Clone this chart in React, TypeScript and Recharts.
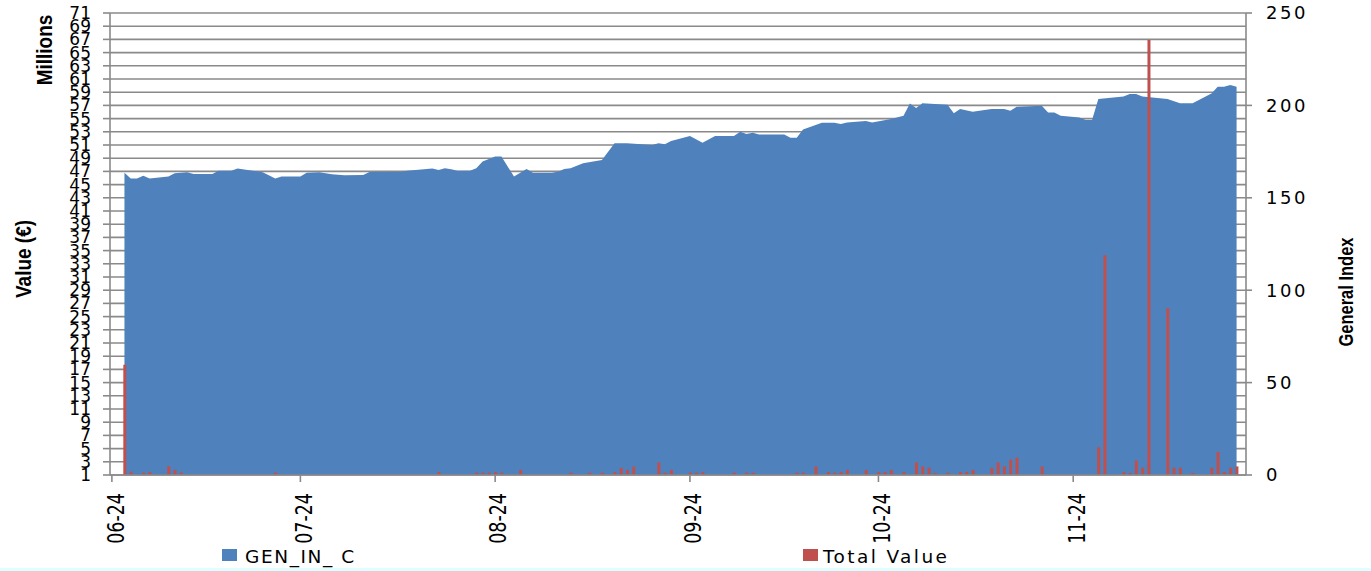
import { ComposedChart, Area, Bar, XAxis, YAxis, CartesianGrid } from "recharts";

// day offsets counted from 1 June 2024
const monthTicks = [0, 30, 61, 92, 122, 153];
const monthLabels = ["06-24", "07-24", "08-24", "09-24", "10-24", "11-24"];

const valueTicks = [1, 3, 5, 7, 9, 11, 13, 15, 17, 19, 21, 23, 25, 27, 29, 31, 33, 35, 37, 39, 41, 43, 45, 47, 49, 51, 53, 55, 57, 59, 61, 63, 65, 67, 69, 71];
const indexTicks = [0, 50, 100, 150, 200, 250];

// GEN_IN_ C (general index, right axis)
const indexDays = [2, 3, 4, 5, 6, 9, 10, 12, 13, 16, 17, 19, 20, 24, 26, 27, 30, 31, 33, 35, 37, 40, 41, 46, 47, 51, 52, 53, 54, 55, 57, 58, 59, 61, 62, 64, 66, 67, 70, 71, 72, 73, 75, 78, 80, 82, 86, 87, 88, 89, 92, 94, 96, 99, 100, 101, 102, 103, 107, 108, 109, 110, 113, 115, 116, 117, 120, 121, 124, 126, 127, 128, 129, 133, 134, 135, 137, 140, 142, 143, 144, 148, 149, 150, 151, 154, 155, 156, 157, 161, 162, 163, 164, 168, 170, 172, 175, 176, 177, 178, 179];
const genIndex = [163.6, 160.4, 160.4, 161.9, 160.4, 161.5, 163.3, 163.8, 162.9, 162.9, 164.7, 164.7, 165.8, 163.8, 160.4, 161.5, 161.5, 163.6, 163.8, 162.8, 162.2, 162.3, 164.0, 164.1, 164.7, 165.8, 165.0, 166.0, 165.4, 164.7, 164.7, 166.0, 169.6, 172.3, 172.3, 161.5, 165.6, 163.6, 163.6, 164.1, 165.6, 166.0, 168.7, 170.5, 179.5, 179.5, 178.6, 179.5, 179.0, 180.7, 183.4, 179.8, 183.4, 183.4, 185.8, 184.5, 185.2, 184.3, 184.3, 182.5, 182.5, 187.0, 190.6, 190.6, 189.9, 190.8, 191.6, 190.8, 192.6, 194.4, 201.0, 198.6, 201.1, 200.3, 195.7, 198.0, 196.6, 198.0, 198.0, 197.1, 199.3, 199.8, 196.2, 196.2, 194.4, 193.5, 192.1, 192.1, 203.5, 204.8, 206.2, 206.2, 204.8, 203.5, 201.1, 201.1, 206.5, 210.1, 210.1, 211.0, 210.1];

// Total Value (millions €, left axis)
const valueDays = [2, 3, 5, 6, 9, 10, 11, 26, 52, 58, 59, 60, 61, 62, 65, 73, 76, 78, 80, 81, 82, 83, 87, 88, 89, 92, 93, 94, 99, 101, 102, 109, 110, 112, 114, 115, 116, 117, 120, 122, 123, 124, 126, 128, 129, 130, 131, 133, 135, 136, 137, 140, 141, 142, 143, 144, 148, 157, 158, 161, 162, 163, 164, 165, 168, 169, 170, 172, 175, 176, 177, 178, 179];
const totalValue = [17.7, 1.5, 1.36, 1.45, 2.33, 1.77, 1.36, 1.36, 1.46, 1.36, 1.36, 1.36, 1.46, 1.36, 1.77, 1.36, 1.36, 1.36, 1.46, 2.08, 1.77, 2.28, 2.9, 1.36, 1.77, 1.36, 1.36, 1.46, 1.36, 1.36, 1.36, 1.36, 1.36, 2.3, 1.46, 1.36, 1.46, 1.77, 1.77, 1.46, 1.46, 1.77, 1.46, 2.9, 2.3, 2.1, 1.3, 1.36, 1.46, 1.46, 1.77, 2.1, 2.9, 2.3, 3.33, 3.64, 2.3, 5.2, 34.3, 1.46, 1.3, 3.2, 2.1, 66.9, 26.3, 2.1, 2.1, 1.3, 2.1, 4.5, 1.46, 2.1, 2.3];

const allDays = Array.from(new Set([...indexDays, ...valueDays])).sort((a, b) => a - b);
const data = allDays.map((day) => {
  const i = indexDays.indexOf(day);
  const v = valueDays.indexOf(day);
  return {
    day,
    idx: i >= 0 ? genIndex[i] : null,
    val: v >= 0 ? totalValue[v] : null,
  };
});

const GRID = "#8A8A8A";
const FONT = "DejaVu Sans";

function MonthTick({ x, y, payload }: any) {
  const i = monthTicks.indexOf(payload.value);
  const shift = i === 0 ? 4 : 3;
  return (
    <g transform={`translate(${x + shift},${y})`}>
      <text transform="rotate(-90) scale(1,1.3)" x={-9} y={6.4} textAnchor="end" fontFamily={FONT} fontSize={17.5} fill="#000">
        {monthLabels[i]}
      </text>
    </g>
  );
}

function IndexTick({ x, y, payload }: any) {
  return (
    <text x={x} y={y} dy="0.36em" textAnchor="start" fontFamily={FONT} fontSize={18} letterSpacing={2.6} fill="#000">
      {payload.value}
    </text>
  );
}

export default function App() {
  return (
    <div style={{ position: "absolute", left: 0, top: 0, width: 1371, height: 571, background: "#fff" }}>
      <ComposedChart width={1371} height={571} data={data} margin={{ top: 13, right: 45, bottom: 36, left: 50 }}>
        <CartesianGrid yAxisId="left" vertical={false} stroke={GRID} strokeWidth={1.6} />
        <XAxis
          dataKey="day"
          type="number"
          domain={[-0.3, 180.5]}
          allowDataOverflow
          ticks={monthTicks}
          interval={0}
          height={60}
          tickSize={7}
          tickMargin={2}
          tick={<MonthTick />}
          axisLine={{ stroke: GRID, strokeWidth: 1.6 }}
          tickLine={{ stroke: GRID, strokeWidth: 1.6 }}
        />
        <YAxis
          yAxisId="left"
          domain={[1, 71]}
          allowDataOverflow
          ticks={valueTicks}
          interval={0}
          width={60}
          tickSize={7}
          tickMargin={12}
          tick={{ fontFamily: FONT, fontSize: 17, fill: "#000" }}
          axisLine={{ stroke: GRID, strokeWidth: 1.6 }}
          tickLine={{ stroke: GRID, strokeWidth: 1.6 }}
        />
        <YAxis
          yAxisId="right"
          orientation="right"
          domain={[0, 250]}
          allowDataOverflow
          ticks={indexTicks}
          interval={0}
          width={80}
          tickSize={6}
          tickMargin={14}
          tick={<IndexTick />}
          axisLine={{ stroke: GRID, strokeWidth: 1.6 }}
          tickLine={{ stroke: GRID, strokeWidth: 1.6 }}
        />
        <Area
          yAxisId="right"
          type="linear"
          dataKey="idx"
          connectNulls
          stroke="none"
          fill="#4F81BD"
          fillOpacity={1}
          isAnimationActive={false}
        />
        <Bar yAxisId="left" dataKey="val" barSize={3} fill="#C0504D" isAnimationActive={false} />
      </ComposedChart>

      <svg width={1371} height={571} style={{ position: "absolute", left: 0, top: 0, pointerEvents: "none" }}>
        <text transform="translate(52,50) rotate(-90) scale(1,1.2)" textAnchor="middle" fontFamily="Liberation Sans" fontWeight="bold" fontSize={19} fill="#000">
          Millions
        </text>
        <text transform="translate(31,259) rotate(-90) scale(1,1.2)" textAnchor="middle" fontFamily="Liberation Sans" fontWeight="bold" fontSize={19} fill="#000">
          Value (€)
        </text>
        <text transform="translate(1353,292) rotate(-90) scale(1,1.2)" textAnchor="middle" fontFamily="Liberation Sans" fontWeight="bold" fontSize={16.5} fill="#000">
          General Index
        </text>
        <rect x={222} y={549} width={15} height={12} fill="#4F81BD" />
        <text x={245} y={563} fontFamily={FONT} fontSize={18.5} letterSpacing={1.6} fill="#000">
          GEN_IN_ C
        </text>
        <rect x={803} y={549} width={15} height={12} fill="#C0504D" />
        <text x={823} y={563} fontFamily={FONT} fontSize={18.5} letterSpacing={2.4} fill="#000">
          Total Value
        </text>
      </svg>
      <div style={{ position: "absolute", left: 0, top: 568, width: 1371, height: 3, background: "#DDFFFF" }} />
    </div>
  );
}
